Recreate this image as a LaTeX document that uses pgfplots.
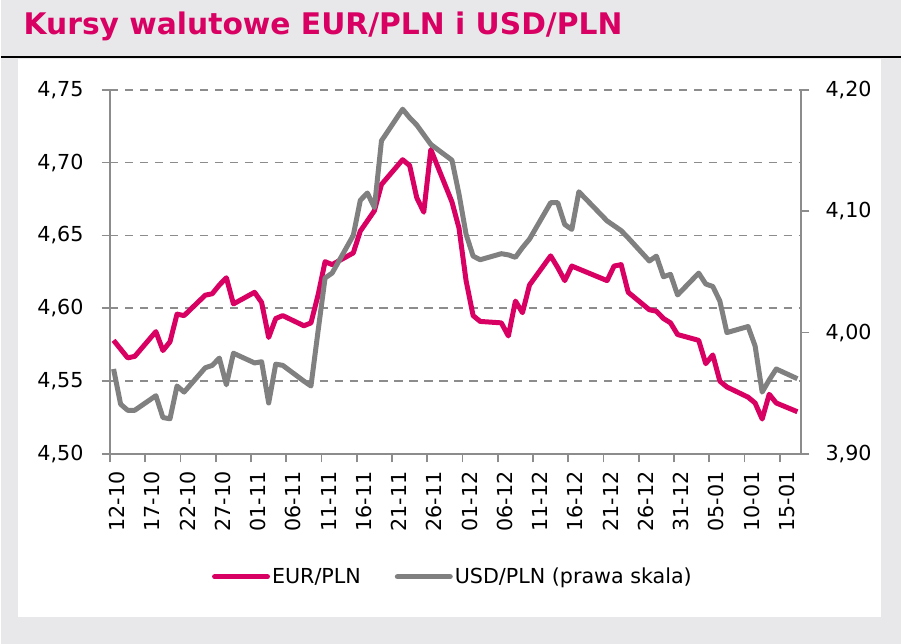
\documentclass[border=0pt]{standalone}
\usepackage{fontspec}
\setmainfont{DejaVu Sans}
\usepackage{pgfplots}
\pgfplotsset{compat=1.18}
\definecolor{mag}{RGB}{216,0,98}
\definecolor{lgrey}{RGB}{128,128,128}
\definecolor{axgrey}{RGB}{140,140,140}
\definecolor{bg}{RGB}{232,232,234}

\pgfplotstableread{
d eur
0 4.578
1 4.572
2 4.566
3 4.567
6 4.584
7 4.571
8 4.577
9 4.596
10 4.595
13 4.609
14 4.610
15 4.616
16 4.621
17 4.603
20 4.611
21 4.604
22 4.580
23 4.593
24 4.595
27 4.588
28 4.590
29 4.609
30 4.632
31 4.630
34 4.638
35 4.653
36 4.660
37 4.667
38 4.685
41 4.702
42 4.698
43 4.676
44 4.666
45 4.709
48 4.673
49 4.655
50 4.619
51 4.595
52 4.591
55 4.590
56 4.581
57 4.605
58 4.597
59 4.616
62 4.636
63 4.628
64 4.619
65 4.629
66 4.627
69 4.621
70 4.619
71 4.629
72 4.630
73 4.611
76 4.599
77 4.598
78 4.593
79 4.590
80 4.582
83 4.578
84 4.562
85 4.568
86 4.550
87 4.546
90 4.539
91 4.535
92 4.524
93 4.541
94 4.535
97 4.529
}\eurdata

\pgfplotstableread{
d usd
0 3.970
1 3.941
2 3.936
3 3.936
6 3.948
7 3.930
8 3.929
9 3.956
10 3.951
13 3.971
14 3.973
15 3.979
16 3.957
17 3.983
20 3.975
21 3.976
22 3.942
23 3.974
24 3.973
27 3.960
28 3.956
29 4.001
30 4.045
31 4.049
34 4.080
35 4.109
36 4.115
37 4.103
38 4.158
41 4.184
42 4.177
43 4.171
44 4.163
45 4.155
48 4.142
49 4.114
50 4.081
51 4.063
52 4.060
55 4.065
56 4.064
57 4.062
58 4.070
59 4.077
62 4.107
63 4.107
64 4.089
65 4.085
66 4.116
69 4.098
70 4.092
71 4.088
72 4.084
73 4.078
76 4.059
77 4.063
78 4.046
79 4.048
80 4.031
83 4.049
84 4.040
85 4.038
86 4.026
87 4.000
90 4.005
91 3.989
92 3.951
93 3.961
94 3.970
97 3.962
}\usddata

\pgfplotsset{
  common/.style={
    at={(109.3bp,190bp)}, anchor=south west, scale only axis,
    width=692.4bp, height=365bp,
    xmin=-0.5, xmax=97.5,
    axis line style={axgrey, line width=2bp, -},
    tick style={axgrey, line width=1.7bp},
    tick align=outside, major tick length=8.5bp,
    tick label style={font=\fontsize{20.7bp}{25bp}\selectfont, text=black},
    /pgf/number format/assume math mode=true,
    yticklabel style={/pgf/number format/fixed, /pgf/number format/fixed zerofill, /pgf/number format/precision=2, /pgf/number format/use comma, inner sep=0pt},
  },
}

\begin{document}
\begin{tikzpicture}[x=1bp,y=1bp]
\fill[bg] (0,0) rectangle (902,645);
\fill[white] (17,27) rectangle (882,586);
\draw[black, line width=2bp] (0,587.5) -- (902,587.5);
\node[anchor=base west, inner sep=0, text=mag, font=\fontsize{29.8bp}{36bp}\selectfont\bfseries] at (22.5,610) {Kursy walutowe EUR/PLN i USD/PLN};

\begin{axis}[common,
  ymin=4.5, ymax=4.75,
  axis x line*=bottom, axis y line*=left,
  xtick={-0.5,4.5,...,94.5},
  xticklabels={12-10,17-10,22-10,27-10,01-11,06-11,11-11,16-11,21-11,26-11,01-12,06-12,11-12,16-12,21-12,26-12,31-12,05-01,10-01,15-01},
  xticklabel style={xshift=7bp, yshift=-9bp, rotate=90, anchor=east, inner sep=0pt},
  ytick={4.50,4.55,4.60,4.65,4.70,4.75},
  yticklabel style={xshift=-18bp},
  ymajorgrids,
  grid style={axgrey, dash pattern=on 8.3bp off 6.7bp, line width=1.7bp},
]
\addplot[mag, line width=5bp, line join=round] table[x=d, y=eur] {\eurdata};
\end{axis}

\begin{axis}[common,
  ymin=3.9, ymax=4.2,
  axis x line=none, axis y line*=right,
  ytick={3.90,4.00,4.10,4.20},
  yticklabel style={xshift=16bp},
  legend columns=2,
  legend style={at={(axis description cs:0.143,-0.337)}, anchor=west, draw=none, fill=none,
    font=\fontsize{20.7bp}{25bp}\selectfont, nodes={inner sep=2bp},
    /tikz/every even column/.append style={column sep=32bp}},
  legend image code/.code={\draw[#1, line width=5.5bp, line cap=round] (2.7bp,0bp) -- (55.3bp,0bp);},
]
\addlegendimage{mag}
\addlegendentry{EUR/PLN}
\addplot[lgrey, line width=5bp, line join=round] table[x=d, y=usd] {\usddata};
\addlegendentry{USD/PLN (prawa skala)}
\end{axis}
\end{tikzpicture}
\end{document}
